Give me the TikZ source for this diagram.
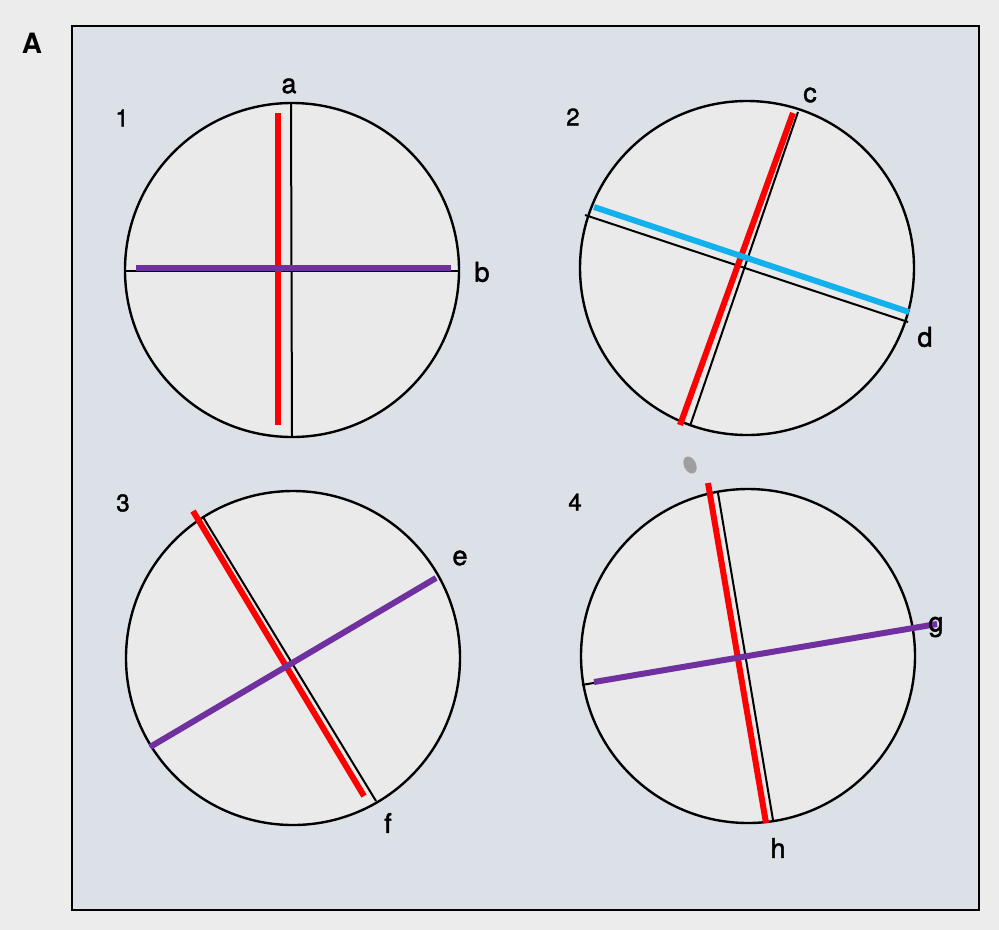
\documentclass[tikz,border=0pt]{standalone}
\usepackage{fontspec}
\setmainfont{TeX Gyre Heros}
\newfontfamily\labfont[FakeBold=1.6]{TeX Gyre Heros}
\definecolor{pagebg}{HTML}{ECECEC}
\definecolor{panelbg}{HTML}{DCE0E7}
\definecolor{discfill}{HTML}{EAEAEA}
\definecolor{linered}{HTML}{FF0000}
\definecolor{linepurple}{HTML}{7030A0}
\definecolor{lineblue}{HTML}{12B0EC}
\begin{document}
\begin{tikzpicture}[x=1pt,y=-1pt,
  disc/.style={circle,draw=black,line width=2.4pt,fill=discfill,minimum size=334pt,inner sep=0pt},
  axisline/.style={draw=black,line width=2pt},
  redline/.style={draw=linered,line width=6pt},
  purpleline/.style={draw=linepurple,line width=6pt},
  blueline/.style={draw=lineblue,line width=6pt},
  lab/.style={font=\labfont\fontsize{27}{30}\selectfont,inner sep=0pt},
  num/.style={font=\labfont\fontsize{24}{28}\selectfont,inner sep=0pt}]
\useasboundingbox (0,0) rectangle (999,930);
\fill[pagebg] (0,0) rectangle (999,930);
\draw[line width=2.6pt,fill=panelbg] (72,26) rectangle (979,910);
\node[font=\bfseries\fontsize{28}{30}\selectfont,inner sep=0pt] (A) at (32,43) {A};

% ---------- circle 1
\node[disc] (c1) at (292,270) {};
\coordinate (a1t) at (291,104); \coordinate (a1b) at (292,436);
\coordinate (b1l) at (124,271); \coordinate (b1r) at (460,271);
\draw[axisline] (a1t) -- (a1b);
\draw[axisline] (b1l) -- (b1r);
\coordinate (r1t) at (278,113); \coordinate (r1b) at (278,425);
\coordinate (p1l) at (136,268); \coordinate (p1r) at (451,268);
\draw[redline] (r1t) -- (r1b);
\draw[purpleline] (p1l) -- (p1r);
\node[num] (n1) at (122,118) {1};
\node[lab] (la) at (289,86) {a};
\node[lab] (lb) at (482,272) {b};

% ---------- circle 2
\node[disc] (c2) at (747,268) {};
\coordinate (k2t) at (798,112); \coordinate (k2b) at (690,426);
\coordinate (k2l) at (585,215); \coordinate (k2r) at (908,322);
\draw[axisline] (k2t) -- (k2b);
\draw[axisline] (k2l) -- (k2r);
\coordinate (r2t) at (793,113); \coordinate (r2b) at (680,425);
\coordinate (u2l) at (594,207); \coordinate (u2r) at (909,312);
\draw[redline] (r2t) -- (r2b);
\draw[blueline] (u2l) -- (u2r);
\node[num] (n2) at (573,117) {2};
\node[lab] (lc) at (810,95) {c};
\node[lab] (ld) at (925,337) {d};

% ---------- circle 3
\node[disc] (c3) at (293,658) {};
\coordinate (k3t) at (203,517); \coordinate (k3b) at (376,801);
\coordinate (k3l) at (150,747); \coordinate (k3r) at (436,578);
\draw[axisline] (k3t) -- (k3b);
\draw[axisline] (k3l) -- (k3r);
\coordinate (r3t) at (193,511); \coordinate (r3b) at (364,796);
\draw[redline] (r3t) -- (r3b);
\draw[purpleline] (k3l) -- (k3r);
\node[num] (n3) at (123,503) {3};
\node[lab] (le) at (460,558) {e};
\node[lab] (lf) at (388,823) {f};

% ---------- circle 4
\node[disc] (c4) at (748,656) {};
\coordinate (k4t) at (718,493); \coordinate (k4b) at (773,820);
\coordinate (k4l) at (582,685); \coordinate (k4r) at (917,626);
\draw[axisline] (k4t) -- (k4b);
\draw[axisline] (k4l) -- (k4r);
\coordinate (r4t) at (708,483); \coordinate (r4b) at (766,823);
\coordinate (p4l) at (594,682); \coordinate (p4r) at (937,624);
\draw[redline] (r4t) -- (r4b);
\draw[purpleline] (p4l) -- (p4r);
\node[num] (n4) at (575,502) {4};
\node[lab] (lg) at (936,627) {g};
\node[lab] (lh) at (778,848) {h};
\fill[gray!75,rotate around={25:(690,465)}] (690,465) ellipse (6 and 9);
\end{tikzpicture}
\end{document}
